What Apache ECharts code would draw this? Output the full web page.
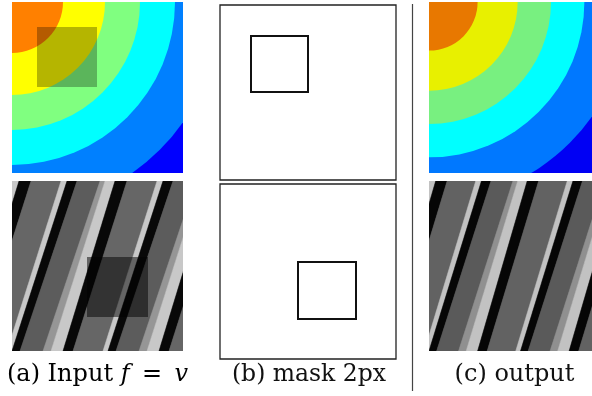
<!DOCTYPE html>
<html><head><meta charset="utf-8">
<script src="https://cdn.jsdelivr.net/npm/echarts@6/dist/echarts.min.js"></script>
<style>html,body{margin:0;padding:0;background:#fff}#c{width:592px;height:396px}</style>
</head><body><div id="c"></div>
<script>
// ---------- DATA (image-pixel units, origin at each panel's top-left) ----------
// contour bands: outer radius of each band measured from the top-left corner
const contourRadius = [209, 163, 128, 93, 51];
// diagonal stripes: x of each stripe's left/right edge on the top row and on the bottom row
const stripeTopLeft     = [-8, -3,  7, 19, 49, 55, 65, 88, 93, 103, 115, 145, 151, 161, 184, 189, 199, 211];
const stripeTopRight    = [-3,  7, 19, 49, 55, 65, 88, 93, 103, 115, 145, 151, 161, 184, 189, 199, 211, 241];
const stripeBottomLeft  = [-65, -57, -45, -35, -5, 0, 8, 31, 39, 51, 61, 91, 96, 104, 127, 135, 147, 157];
const stripeBottomRight = [-57, -45, -35, -5, 0, 8, 31, 39, 51, 61, 91, 96, 104, 127, 135, 147, 157, 187];
const stripeTone = ['mid','light','black','dark1','light','black','dark2',
                    'mid','light','black','dark1','light','black','dark2',
                    'mid','light','black','dark1'];
// shaded square on the inputs [x0, y0, x1, y1]
const inputSquareTop    = [25, 25, 85, 85];
const inputSquareBottom = [75, 76, 136, 136];
// mask squares in panel (b) [x0, y0, x1, y1]
const maskSquareTop    = [31, 31, 88, 87];
const maskSquareBottom = [78, 78, 136, 135];
// captions
const captions = ['(a) Input ', 'f', ' \u2009=\u2009 ', 'v', '(b) mask 2px', '(c) output'];

// ---------- STYLE ----------
const bandColorsIn  = ['#0080ff', '#00ffff', '#80ff80', '#ffff00', '#ff8000'];
const bandColorsOut = ['#0078ff', '#00ffff', '#78f080', '#e8f000', '#e87800'];
const toneIn  = {black:'#080808', dark1:'#666666', dark2:'#5c5c5c', light:'#c8c8c8', mid:'#969696'};
const toneOut = {black:'#060606', dark1:'#626262', dark2:'#5a5a5a', light:'#c2c2c2', mid:'#909090'};

// panels: [left, top, width, height]
const frames = [
  [12, 2, 171, 171],    // a top
  [12, 181, 171, 170],  // a bottom
  [220, 5, 176, 175],   // b top
  [220, 184, 176, 175], // b bottom
  [429, 2, 171, 171],   // c top
  [429, 181, 171, 170]  // c bottom
];

const grid = [], xAxis = [], yAxis = [];
frames.forEach((f, i) => {
  const isMask = (i === 2 || i === 3);
  grid.push({left: f[0], top: f[1], width: f[2], height: f[3], show: true,
    backgroundColor: isMask ? '#ffffff' : ((i === 0 || i === 4) ? (i === 0 ? '#0000ff' : '#0000f4') : '#666666'),
    borderWidth: isMask ? 1.3 : 0, borderColor: '#222'});
  xAxis.push({type: 'value', gridIndex: i, min: 0, max: f[2], show: false});
  yAxis.push({type: 'value', gridIndex: i, min: 0, max: f[3], inverse: true, show: false});
});

function clipOf(params) {
  const c = params.coordSys;
  return {type: 'rect', shape: {x: c.x, y: c.y, width: c.width, height: c.height}};
}

function contourSeries(gi, colors) {
  return {
    type: 'custom', xAxisIndex: gi, yAxisIndex: gi, clip: true, z: 1,
    data: contourRadius.map(r => [0, 0, r]),
    renderItem: function (params, api) {
      const c = api.coord([api.value(0), api.value(1)]);
      const r = api.size([api.value(2), 0])[0];
      return {type: 'circle', shape: {cx: c[0], cy: c[1], r: r},
        style: {fill: colors[params.dataIndex]}, clipPath: clipOf(params)};
    }
  };
}

function stripeSeries(gi, tones) {
  const H = frames[gi][3];
  return {
    type: 'custom', xAxisIndex: gi, yAxisIndex: gi, clip: true, z: 1,
    data: stripeTopLeft.map((v, k) => [v, stripeTopRight[k], stripeBottomLeft[k], stripeBottomRight[k]]),
    renderItem: function (params, api) {
      const p1 = api.coord([api.value(0), 0]);
      const p2 = api.coord([api.value(1), 0]);
      const p3 = api.coord([api.value(3), H]);
      const p4 = api.coord([api.value(2), H]);
      return {type: 'polygon', shape: {points: [p1, p2, p3, p4]},
        style: {fill: tones[stripeTone[params.dataIndex]], stroke: tones[stripeTone[params.dataIndex]], lineWidth: 0.5},
        clipPath: clipOf(params)};
    }
  };
}

function squareSeries(gi, sq, style, z) {
  return {
    type: 'custom', xAxisIndex: gi, yAxisIndex: gi, clip: true, z: z,
    data: [sq],
    renderItem: function (params, api) {
      const a = api.coord([api.value(0), api.value(1)]);
      const b = api.coord([api.value(2), api.value(3)]);
      return {type: 'rect', shape: {x: a[0], y: a[1], width: b[0] - a[0], height: b[1] - a[1]}, style: style};
    }
  };
}

const series = [
  contourSeries(0, bandColorsIn),
  squareSeries(0, inputSquareTop, {fill: 'rgba(0,0,0,0.29)'}, 2),
  stripeSeries(1, toneIn),
  squareSeries(1, inputSquareBottom, {fill: 'rgba(0,0,0,0.5)'}, 2),
  squareSeries(2, maskSquareTop, {fill: 'none', stroke: '#111', lineWidth: 2}, 2),
  squareSeries(3, maskSquareBottom, {fill: 'none', stroke: '#111', lineWidth: 2}, 2),
  contourSeries(4, bandColorsOut),
  stripeSeries(5, toneOut)
];

const rich = {
  n: {fontFamily: 'DejaVu Serif', fontSize: 24, color: '#111'},
  i: {fontFamily: 'DejaVu Serif', fontSize: 24, fontStyle: 'italic', color: '#111'}
};

const chart = echarts.init(document.getElementById('c'), null, {renderer: 'canvas'});
chart.setOption({
  animation: false,
  grid: grid, xAxis: xAxis, yAxis: yAxis, series: series,
  graphic: [
    {type: 'line', shape: {x1: 412.5, y1: 4, x2: 412.5, y2: 391}, style: {stroke: '#444', lineWidth: 1.2}, silent: true},
    {type: 'text', x: 97.5, y: 375, style: {
      text: '{n|' + captions[0] + '}{i|' + captions[1] + '}{n|' + captions[2] + '}{i|' + captions[3] + '}',
      rich: rich, align: 'center', verticalAlign: 'middle'}},
    {type: 'text', x: 309, y: 375, style: {text: captions[4], align: 'center', verticalAlign: 'middle',
      fontFamily: 'DejaVu Serif', fontSize: 23.5, fill: '#111'}},
    {type: 'text', x: 514.5, y: 375, style: {text: captions[5], align: 'center', verticalAlign: 'middle',
      fontFamily: 'DejaVu Serif', fontSize: 24, fill: '#111'}}
  ]
});
</script></body></html>
